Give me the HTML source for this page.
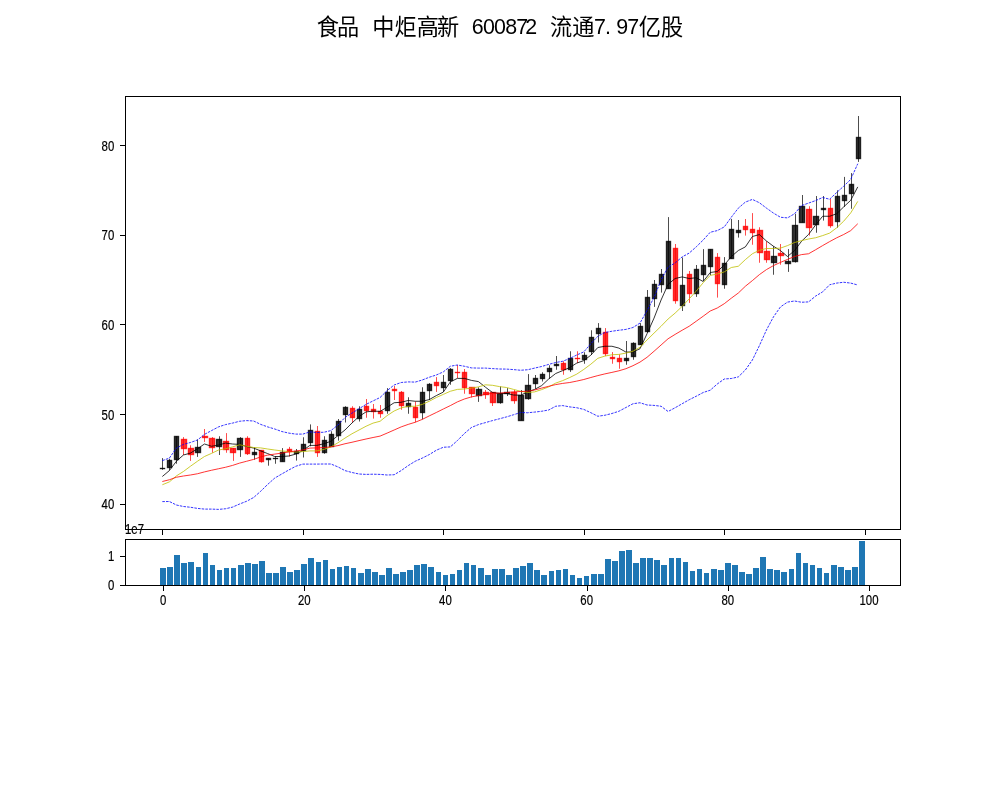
<!DOCTYPE html>
<html lang="zh"><head><meta charset="utf-8"><title>食品 中炬高新 600872</title>
<style>html,body{margin:0;padding:0;background:#fff}svg{display:block}.t{font-family:"Liberation Sans","Noto Sans CJK SC",sans-serif;fill:#000}.c{font-family:"Noto Sans CJK SC","WenQuanYi Zen Hei",sans-serif;fill:#000}</style></head><body>
<svg width="1000" height="800" viewBox="0 0 1000 800">
<rect width="1000" height="800" fill="#fff"/>
<text id="title" text-anchor="middle"><tspan class="c" font-size="22.2" x="327.95 350.15" y="34.6">食品</tspan> <tspan class="c" font-size="22.2" x="383.45 405.65 427.85 450.05" y="34.6">中炬高新</tspan> <tspan class="t" font-size="21.4" x="477.80 488.90 500.00 511.10 522.20 533.30" y="34.0">600872</tspan> <tspan class="c" font-size="22.2" x="561.05 583.25" y="34.6">流通</tspan><tspan class="t" font-size="21.4" x="599.90 608.00 622.10 633.20" y="34.0">7.97</tspan><tspan class="c" font-size="22.2" x="649.85 672.05" y="34.6">亿股</tspan></text>
<g id="vol" fill="#1f77b4" shape-rendering="crispEdges">
<rect x="160" y="568" width="6" height="17"/>
<rect x="167" y="567" width="6" height="18"/>
<rect x="174" y="555" width="6" height="30"/>
<rect x="181" y="563" width="6" height="22"/>
<rect x="188" y="562" width="6" height="23"/>
<rect x="196" y="567" width="5" height="18"/>
<rect x="203" y="553" width="5" height="32"/>
<rect x="210" y="565" width="5" height="20"/>
<rect x="217" y="570" width="5" height="15"/>
<rect x="224" y="568" width="5" height="17"/>
<rect x="231" y="568" width="5" height="17"/>
<rect x="238" y="565" width="6" height="20"/>
<rect x="245" y="563" width="6" height="22"/>
<rect x="252" y="564" width="6" height="21"/>
<rect x="259" y="561" width="6" height="24"/>
<rect x="266" y="573" width="6" height="12"/>
<rect x="273" y="573" width="6" height="12"/>
<rect x="280" y="567" width="6" height="18"/>
<rect x="287" y="572" width="6" height="13"/>
<rect x="294" y="570" width="6" height="15"/>
<rect x="301" y="564" width="6" height="21"/>
<rect x="308" y="558" width="6" height="27"/>
<rect x="316" y="562" width="5" height="23"/>
<rect x="323" y="560" width="5" height="25"/>
<rect x="330" y="569" width="5" height="16"/>
<rect x="337" y="567" width="5" height="18"/>
<rect x="344" y="566" width="5" height="19"/>
<rect x="351" y="568" width="5" height="17"/>
<rect x="358" y="573" width="6" height="12"/>
<rect x="365" y="569" width="6" height="16"/>
<rect x="372" y="572" width="6" height="13"/>
<rect x="379" y="575" width="6" height="10"/>
<rect x="386" y="568" width="6" height="17"/>
<rect x="393" y="574" width="6" height="11"/>
<rect x="400" y="572" width="6" height="13"/>
<rect x="407" y="570" width="6" height="15"/>
<rect x="414" y="565" width="6" height="20"/>
<rect x="421" y="564" width="6" height="21"/>
<rect x="428" y="567" width="6" height="18"/>
<rect x="436" y="572" width="5" height="13"/>
<rect x="443" y="575" width="5" height="10"/>
<rect x="450" y="574" width="5" height="11"/>
<rect x="457" y="570" width="5" height="15"/>
<rect x="464" y="563" width="5" height="22"/>
<rect x="471" y="565" width="5" height="20"/>
<rect x="478" y="568" width="6" height="17"/>
<rect x="485" y="575" width="6" height="10"/>
<rect x="492" y="569" width="6" height="16"/>
<rect x="499" y="569" width="6" height="16"/>
<rect x="506" y="575" width="6" height="10"/>
<rect x="513" y="568" width="6" height="17"/>
<rect x="520" y="566" width="6" height="19"/>
<rect x="527" y="563" width="6" height="22"/>
<rect x="534" y="570" width="6" height="15"/>
<rect x="541" y="575" width="6" height="10"/>
<rect x="549" y="571" width="5" height="14"/>
<rect x="556" y="570" width="5" height="15"/>
<rect x="563" y="569" width="5" height="16"/>
<rect x="570" y="575" width="5" height="10"/>
<rect x="577" y="578" width="5" height="7"/>
<rect x="584" y="576" width="5" height="9"/>
<rect x="591" y="574" width="6" height="11"/>
<rect x="598" y="574" width="6" height="11"/>
<rect x="605" y="559" width="6" height="26"/>
<rect x="612" y="561" width="6" height="24"/>
<rect x="619" y="551" width="6" height="34"/>
<rect x="626" y="550" width="6" height="35"/>
<rect x="633" y="563" width="6" height="22"/>
<rect x="640" y="558" width="6" height="27"/>
<rect x="647" y="558" width="6" height="27"/>
<rect x="654" y="560" width="6" height="25"/>
<rect x="661" y="565" width="6" height="20"/>
<rect x="669" y="558" width="5" height="27"/>
<rect x="676" y="558" width="5" height="27"/>
<rect x="683" y="562" width="5" height="23"/>
<rect x="690" y="571" width="5" height="14"/>
<rect x="697" y="569" width="5" height="16"/>
<rect x="704" y="573" width="5" height="12"/>
<rect x="711" y="569" width="6" height="16"/>
<rect x="718" y="570" width="6" height="15"/>
<rect x="725" y="563" width="6" height="22"/>
<rect x="732" y="565" width="6" height="20"/>
<rect x="739" y="572" width="6" height="13"/>
<rect x="746" y="574" width="6" height="11"/>
<rect x="753" y="568" width="6" height="17"/>
<rect x="760" y="557" width="6" height="28"/>
<rect x="767" y="569" width="6" height="16"/>
<rect x="774" y="570" width="6" height="15"/>
<rect x="781" y="572" width="6" height="13"/>
<rect x="789" y="569" width="5" height="16"/>
<rect x="796" y="553" width="5" height="32"/>
<rect x="803" y="563" width="5" height="22"/>
<rect x="810" y="565" width="5" height="20"/>
<rect x="817" y="568" width="5" height="17"/>
<rect x="824" y="573" width="5" height="12"/>
<rect x="831" y="565" width="6" height="20"/>
<rect x="838" y="567" width="6" height="18"/>
<rect x="845" y="570" width="6" height="15"/>
<rect x="852" y="567" width="6" height="18"/>
<rect x="859" y="541" width="6" height="44"/>
</g>
<g id="main" fill="none">
<line x1="159.805" y1="468.5" x2="165.195" y2="468.5" stroke="#000" stroke-opacity="0.9" stroke-width="1.39"/>
<rect x="167.5" y="460.5" width="4.0" height="7.0" fill="#000" fill-opacity="0.8" stroke="#000" stroke-opacity="0.8" stroke-width="1.39"/>
<rect x="174.5" y="436.5" width="4.0" height="23.0" fill="#000" fill-opacity="0.8" stroke="#000" stroke-opacity="0.8" stroke-width="1.39"/>
<rect x="181.5" y="439.5" width="5.0" height="9.0" fill="#f00" fill-opacity="0.8" stroke="#f00" stroke-opacity="0.8" stroke-width="1.39"/>
<rect x="188.5" y="448.5" width="5.0" height="6.0" fill="#f00" fill-opacity="0.8" stroke="#f00" stroke-opacity="0.8" stroke-width="1.39"/>
<rect x="195.5" y="447.5" width="5.0" height="5.0" fill="#000" fill-opacity="0.8" stroke="#000" stroke-opacity="0.8" stroke-width="1.39"/>
<rect x="202.5" y="436.5" width="5.0" height="1.0" fill="#f00" fill-opacity="0.8" stroke="#f00" stroke-opacity="0.8" stroke-width="1.39"/>
<rect x="209.5" y="438.5" width="5.0" height="9.0" fill="#f00" fill-opacity="0.8" stroke="#f00" stroke-opacity="0.8" stroke-width="1.39"/>
<rect x="216.5" y="439.5" width="5.0" height="7.0" fill="#000" fill-opacity="0.8" stroke="#000" stroke-opacity="0.8" stroke-width="1.39"/>
<rect x="223.5" y="441.5" width="5.0" height="8.0" fill="#f00" fill-opacity="0.8" stroke="#f00" stroke-opacity="0.8" stroke-width="1.39"/>
<rect x="230.5" y="448.5" width="5.0" height="4.0" fill="#f00" fill-opacity="0.8" stroke="#f00" stroke-opacity="0.8" stroke-width="1.39"/>
<rect x="237.5" y="438.5" width="5.0" height="11.0" fill="#000" fill-opacity="0.8" stroke="#000" stroke-opacity="0.8" stroke-width="1.39"/>
<rect x="245.5" y="438.5" width="4.0" height="15.0" fill="#f00" fill-opacity="0.8" stroke="#f00" stroke-opacity="0.8" stroke-width="1.39"/>
<rect x="252.5" y="452.5" width="4.0" height="2.0" fill="#000" fill-opacity="0.8" stroke="#000" stroke-opacity="0.8" stroke-width="1.39"/>
<rect x="259.5" y="450.5" width="4.0" height="11.0" fill="#f00" fill-opacity="0.8" stroke="#f00" stroke-opacity="0.8" stroke-width="1.39"/>
<rect x="266.5" y="458.5" width="4.0" height="1.0" fill="#000" fill-opacity="0.8" stroke="#000" stroke-opacity="0.8" stroke-width="1.39"/>
<line x1="272.805" y1="458.5" x2="278.195" y2="458.5" stroke="#000" stroke-opacity="0.9" stroke-width="1.39"/>
<rect x="280.5" y="452.5" width="4.0" height="9.0" fill="#000" fill-opacity="0.8" stroke="#000" stroke-opacity="0.8" stroke-width="1.39"/>
<rect x="287.5" y="449.5" width="4.0" height="2.0" fill="#f00" fill-opacity="0.8" stroke="#f00" stroke-opacity="0.8" stroke-width="1.39"/>
<rect x="294.5" y="451.5" width="4.0" height="2.0" fill="#000" fill-opacity="0.8" stroke="#000" stroke-opacity="0.8" stroke-width="1.39"/>
<rect x="301.5" y="444.5" width="4.0" height="6.0" fill="#000" fill-opacity="0.8" stroke="#000" stroke-opacity="0.8" stroke-width="1.39"/>
<rect x="308.5" y="430.5" width="4.0" height="12.0" fill="#000" fill-opacity="0.8" stroke="#000" stroke-opacity="0.8" stroke-width="1.39"/>
<rect x="315.5" y="431.5" width="4.0" height="21.0" fill="#f00" fill-opacity="0.8" stroke="#f00" stroke-opacity="0.8" stroke-width="1.39"/>
<rect x="322.5" y="440.5" width="4.0" height="12.0" fill="#000" fill-opacity="0.8" stroke="#000" stroke-opacity="0.8" stroke-width="1.39"/>
<rect x="329.5" y="434.5" width="4.0" height="12.0" fill="#000" fill-opacity="0.8" stroke="#000" stroke-opacity="0.8" stroke-width="1.39"/>
<rect x="336.5" y="421.5" width="4.0" height="14.0" fill="#000" fill-opacity="0.8" stroke="#000" stroke-opacity="0.8" stroke-width="1.39"/>
<rect x="343.5" y="407.5" width="4.0" height="7.0" fill="#000" fill-opacity="0.8" stroke="#000" stroke-opacity="0.8" stroke-width="1.39"/>
<rect x="350.5" y="408.5" width="4.0" height="9.0" fill="#f00" fill-opacity="0.8" stroke="#f00" stroke-opacity="0.8" stroke-width="1.39"/>
<rect x="357.5" y="409.5" width="4.0" height="9.0" fill="#000" fill-opacity="0.8" stroke="#000" stroke-opacity="0.8" stroke-width="1.39"/>
<rect x="364.5" y="406.5" width="4.0" height="4.0" fill="#f00" fill-opacity="0.8" stroke="#f00" stroke-opacity="0.8" stroke-width="1.39"/>
<rect x="371.5" y="409.5" width="4.0" height="2.0" fill="#f00" fill-opacity="0.8" stroke="#f00" stroke-opacity="0.8" stroke-width="1.39"/>
<rect x="378.5" y="411.5" width="4.0" height="2.0" fill="#f00" fill-opacity="0.8" stroke="#f00" stroke-opacity="0.8" stroke-width="1.39"/>
<rect x="385.5" y="392.5" width="4.0" height="18.0" fill="#000" fill-opacity="0.8" stroke="#000" stroke-opacity="0.8" stroke-width="1.39"/>
<rect x="392.5" y="389.5" width="4.0" height="1.0" fill="#f00" fill-opacity="0.8" stroke="#f00" stroke-opacity="0.8" stroke-width="1.39"/>
<rect x="399.5" y="392.5" width="4.0" height="13.0" fill="#f00" fill-opacity="0.8" stroke="#f00" stroke-opacity="0.8" stroke-width="1.39"/>
<rect x="406.5" y="403.5" width="4.0" height="3.0" fill="#000" fill-opacity="0.8" stroke="#000" stroke-opacity="0.8" stroke-width="1.39"/>
<rect x="413.5" y="407.5" width="4.0" height="10.0" fill="#f00" fill-opacity="0.8" stroke="#f00" stroke-opacity="0.8" stroke-width="1.39"/>
<rect x="420.5" y="392.5" width="4.0" height="20.0" fill="#000" fill-opacity="0.8" stroke="#000" stroke-opacity="0.8" stroke-width="1.39"/>
<rect x="427.5" y="384.5" width="4.0" height="6.0" fill="#000" fill-opacity="0.8" stroke="#000" stroke-opacity="0.8" stroke-width="1.39"/>
<rect x="434.5" y="382.5" width="4.0" height="3.0" fill="#f00" fill-opacity="0.8" stroke="#f00" stroke-opacity="0.8" stroke-width="1.39"/>
<rect x="441.5" y="382.5" width="4.0" height="5.0" fill="#000" fill-opacity="0.8" stroke="#000" stroke-opacity="0.8" stroke-width="1.39"/>
<rect x="448.5" y="369.5" width="4.0" height="11.0" fill="#000" fill-opacity="0.8" stroke="#000" stroke-opacity="0.8" stroke-width="1.39"/>
<line x1="454.805" y1="372.5" x2="460.195" y2="372.5" stroke="#f00" stroke-opacity="0.9" stroke-width="1.39"/>
<rect x="462.5" y="372.5" width="4.0" height="15.0" fill="#f00" fill-opacity="0.8" stroke="#f00" stroke-opacity="0.8" stroke-width="1.39"/>
<rect x="469.5" y="387.5" width="5.0" height="6.0" fill="#f00" fill-opacity="0.8" stroke="#f00" stroke-opacity="0.8" stroke-width="1.39"/>
<rect x="476.5" y="389.5" width="5.0" height="6.0" fill="#000" fill-opacity="0.8" stroke="#000" stroke-opacity="0.8" stroke-width="1.39"/>
<rect x="483.5" y="392.5" width="5.0" height="2.0" fill="#f00" fill-opacity="0.8" stroke="#f00" stroke-opacity="0.8" stroke-width="1.39"/>
<rect x="490.5" y="392.5" width="5.0" height="10.0" fill="#f00" fill-opacity="0.8" stroke="#f00" stroke-opacity="0.8" stroke-width="1.39"/>
<rect x="497.5" y="393.5" width="5.0" height="9.0" fill="#000" fill-opacity="0.8" stroke="#000" stroke-opacity="0.8" stroke-width="1.39"/>
<rect x="504.5" y="392.5" width="5.0" height="1.0" fill="#000" fill-opacity="0.8" stroke="#000" stroke-opacity="0.8" stroke-width="1.39"/>
<rect x="511.5" y="392.5" width="5.0" height="8.0" fill="#f00" fill-opacity="0.8" stroke="#f00" stroke-opacity="0.8" stroke-width="1.39"/>
<rect x="518.5" y="395.5" width="5.0" height="25.0" fill="#000" fill-opacity="0.8" stroke="#000" stroke-opacity="0.8" stroke-width="1.39"/>
<rect x="525.5" y="385.5" width="5.0" height="13.0" fill="#000" fill-opacity="0.8" stroke="#000" stroke-opacity="0.8" stroke-width="1.39"/>
<rect x="533.5" y="378.5" width="4.0" height="5.0" fill="#000" fill-opacity="0.8" stroke="#000" stroke-opacity="0.8" stroke-width="1.39"/>
<rect x="540.5" y="374.5" width="4.0" height="4.0" fill="#000" fill-opacity="0.8" stroke="#000" stroke-opacity="0.8" stroke-width="1.39"/>
<rect x="547.5" y="368.5" width="4.0" height="3.0" fill="#000" fill-opacity="0.8" stroke="#000" stroke-opacity="0.8" stroke-width="1.39"/>
<rect x="554.5" y="364.5" width="4.0" height="1.0" fill="#000" fill-opacity="0.8" stroke="#000" stroke-opacity="0.8" stroke-width="1.39"/>
<rect x="561.5" y="363.5" width="4.0" height="6.0" fill="#f00" fill-opacity="0.8" stroke="#f00" stroke-opacity="0.8" stroke-width="1.39"/>
<rect x="568.5" y="358.5" width="4.0" height="11.0" fill="#000" fill-opacity="0.8" stroke="#000" stroke-opacity="0.8" stroke-width="1.39"/>
<line x1="574.805" y1="358.5" x2="580.195" y2="358.5" stroke="#f00" stroke-opacity="0.9" stroke-width="1.39"/>
<rect x="582.5" y="355.5" width="4.0" height="4.0" fill="#000" fill-opacity="0.8" stroke="#000" stroke-opacity="0.8" stroke-width="1.39"/>
<rect x="589.5" y="337.5" width="4.0" height="14.0" fill="#000" fill-opacity="0.8" stroke="#000" stroke-opacity="0.8" stroke-width="1.39"/>
<rect x="596.5" y="328.5" width="4.0" height="5.0" fill="#000" fill-opacity="0.8" stroke="#000" stroke-opacity="0.8" stroke-width="1.39"/>
<rect x="603.5" y="332.5" width="4.0" height="21.0" fill="#f00" fill-opacity="0.8" stroke="#f00" stroke-opacity="0.8" stroke-width="1.39"/>
<rect x="610.5" y="357.5" width="4.0" height="1.0" fill="#f00" fill-opacity="0.8" stroke="#f00" stroke-opacity="0.8" stroke-width="1.39"/>
<rect x="617.5" y="358.5" width="4.0" height="3.0" fill="#f00" fill-opacity="0.8" stroke="#f00" stroke-opacity="0.8" stroke-width="1.39"/>
<rect x="624.5" y="358.5" width="4.0" height="2.0" fill="#000" fill-opacity="0.8" stroke="#000" stroke-opacity="0.8" stroke-width="1.39"/>
<rect x="631.5" y="343.5" width="4.0" height="13.0" fill="#000" fill-opacity="0.8" stroke="#000" stroke-opacity="0.8" stroke-width="1.39"/>
<rect x="638.5" y="326.5" width="4.0" height="18.0" fill="#000" fill-opacity="0.8" stroke="#000" stroke-opacity="0.8" stroke-width="1.39"/>
<rect x="645.5" y="297.5" width="4.0" height="34.0" fill="#000" fill-opacity="0.8" stroke="#000" stroke-opacity="0.8" stroke-width="1.39"/>
<rect x="652.5" y="284.5" width="4.0" height="14.0" fill="#000" fill-opacity="0.8" stroke="#000" stroke-opacity="0.8" stroke-width="1.39"/>
<rect x="659.5" y="274.5" width="4.0" height="10.0" fill="#000" fill-opacity="0.8" stroke="#000" stroke-opacity="0.8" stroke-width="1.39"/>
<rect x="666.5" y="241.5" width="4.0" height="47.0" fill="#000" fill-opacity="0.8" stroke="#000" stroke-opacity="0.8" stroke-width="1.39"/>
<rect x="673.5" y="248.5" width="4.0" height="52.0" fill="#f00" fill-opacity="0.8" stroke="#f00" stroke-opacity="0.8" stroke-width="1.39"/>
<rect x="680.5" y="285.5" width="4.0" height="20.0" fill="#000" fill-opacity="0.8" stroke="#000" stroke-opacity="0.8" stroke-width="1.39"/>
<rect x="687.5" y="274.5" width="4.0" height="19.0" fill="#f00" fill-opacity="0.8" stroke="#f00" stroke-opacity="0.8" stroke-width="1.39"/>
<rect x="694.5" y="269.5" width="4.0" height="24.0" fill="#000" fill-opacity="0.8" stroke="#000" stroke-opacity="0.8" stroke-width="1.39"/>
<rect x="701.5" y="265.5" width="4.0" height="9.0" fill="#000" fill-opacity="0.8" stroke="#000" stroke-opacity="0.8" stroke-width="1.39"/>
<rect x="708.5" y="249.5" width="4.0" height="17.0" fill="#000" fill-opacity="0.8" stroke="#000" stroke-opacity="0.8" stroke-width="1.39"/>
<rect x="715.5" y="257.5" width="4.0" height="26.0" fill="#f00" fill-opacity="0.8" stroke="#f00" stroke-opacity="0.8" stroke-width="1.39"/>
<rect x="722.5" y="263.5" width="4.0" height="21.0" fill="#000" fill-opacity="0.8" stroke="#000" stroke-opacity="0.8" stroke-width="1.39"/>
<rect x="729.5" y="229.5" width="4.0" height="29.0" fill="#000" fill-opacity="0.8" stroke="#000" stroke-opacity="0.8" stroke-width="1.39"/>
<rect x="736.5" y="230.5" width="4.0" height="2.0" fill="#000" fill-opacity="0.8" stroke="#000" stroke-opacity="0.8" stroke-width="1.39"/>
<rect x="743.5" y="226.5" width="4.0" height="3.0" fill="#f00" fill-opacity="0.8" stroke="#f00" stroke-opacity="0.8" stroke-width="1.39"/>
<rect x="750.5" y="229.5" width="4.0" height="3.0" fill="#f00" fill-opacity="0.8" stroke="#f00" stroke-opacity="0.8" stroke-width="1.39"/>
<rect x="757.5" y="230.5" width="5.0" height="22.0" fill="#f00" fill-opacity="0.8" stroke="#f00" stroke-opacity="0.8" stroke-width="1.39"/>
<rect x="764.5" y="251.5" width="5.0" height="8.0" fill="#f00" fill-opacity="0.8" stroke="#f00" stroke-opacity="0.8" stroke-width="1.39"/>
<rect x="771.5" y="256.5" width="5.0" height="6.0" fill="#000" fill-opacity="0.8" stroke="#000" stroke-opacity="0.8" stroke-width="1.39"/>
<rect x="778.5" y="253.5" width="5.0" height="2.0" fill="#f00" fill-opacity="0.8" stroke="#f00" stroke-opacity="0.8" stroke-width="1.39"/>
<rect x="785.5" y="261.5" width="5.0" height="2.0" fill="#000" fill-opacity="0.8" stroke="#000" stroke-opacity="0.8" stroke-width="1.39"/>
<rect x="792.5" y="225.5" width="5.0" height="36.0" fill="#000" fill-opacity="0.8" stroke="#000" stroke-opacity="0.8" stroke-width="1.39"/>
<rect x="799.5" y="206.5" width="5.0" height="16.0" fill="#000" fill-opacity="0.8" stroke="#000" stroke-opacity="0.8" stroke-width="1.39"/>
<rect x="806.5" y="209.5" width="5.0" height="18.0" fill="#f00" fill-opacity="0.8" stroke="#f00" stroke-opacity="0.8" stroke-width="1.39"/>
<rect x="813.5" y="216.5" width="5.0" height="8.0" fill="#000" fill-opacity="0.8" stroke="#000" stroke-opacity="0.8" stroke-width="1.39"/>
<rect x="821.5" y="208.5" width="4.0" height="1.0" fill="#000" fill-opacity="0.8" stroke="#000" stroke-opacity="0.8" stroke-width="1.39"/>
<rect x="828.5" y="208.5" width="4.0" height="17.0" fill="#f00" fill-opacity="0.8" stroke="#f00" stroke-opacity="0.8" stroke-width="1.39"/>
<rect x="835.5" y="196.5" width="4.0" height="25.0" fill="#000" fill-opacity="0.8" stroke="#000" stroke-opacity="0.8" stroke-width="1.39"/>
<rect x="842.5" y="195.5" width="4.0" height="5.0" fill="#000" fill-opacity="0.8" stroke="#000" stroke-opacity="0.8" stroke-width="1.39"/>
<rect x="849.5" y="184.5" width="4.0" height="9.0" fill="#000" fill-opacity="0.8" stroke="#000" stroke-opacity="0.8" stroke-width="1.39"/>
<rect x="856.5" y="137.5" width="4.0" height="21.0" fill="#000" fill-opacity="0.8" stroke="#000" stroke-opacity="0.8" stroke-width="1.39"/>
<line x1="162.5" y1="458.10" x2="162.5" y2="469.80" stroke="#000" stroke-width="0.7"/>
<line x1="169.5" y1="458.75" x2="169.5" y2="470.30" stroke="#000" stroke-width="0.7"/>
<line x1="176.5" y1="436.25" x2="176.5" y2="463.75" stroke="#000" stroke-width="0.7"/>
<line x1="183.5" y1="437.10" x2="183.5" y2="455.00" stroke="#f00" stroke-width="0.7"/>
<line x1="190.5" y1="445.25" x2="190.5" y2="460.90" stroke="#f00" stroke-width="0.7"/>
<line x1="197.5" y1="439.40" x2="197.5" y2="456.90" stroke="#000" stroke-width="0.7"/>
<line x1="204.5" y1="429.00" x2="204.5" y2="441.90" stroke="#f00" stroke-width="0.7"/>
<line x1="212.5" y1="437.10" x2="212.5" y2="452.75" stroke="#f00" stroke-width="0.7"/>
<line x1="219.5" y1="436.25" x2="219.5" y2="455.00" stroke="#000" stroke-width="0.7"/>
<line x1="226.5" y1="433.10" x2="226.5" y2="452.75" stroke="#f00" stroke-width="0.7"/>
<line x1="233.5" y1="448.10" x2="233.5" y2="460.90" stroke="#f00" stroke-width="0.7"/>
<line x1="240.5" y1="437.10" x2="240.5" y2="456.90" stroke="#000" stroke-width="0.7"/>
<line x1="247.5" y1="436.25" x2="247.5" y2="455.00" stroke="#f00" stroke-width="0.7"/>
<line x1="254.5" y1="447.25" x2="254.5" y2="459.75" stroke="#000" stroke-width="0.7"/>
<line x1="261.5" y1="450.00" x2="261.5" y2="462.70" stroke="#f00" stroke-width="0.7"/>
<line x1="268.5" y1="458.10" x2="268.5" y2="465.70" stroke="#000" stroke-width="0.7"/>
<line x1="275.5" y1="456.25" x2="275.5" y2="463.75" stroke="#000" stroke-width="0.7"/>
<line x1="282.5" y1="448.10" x2="282.5" y2="461.50" stroke="#000" stroke-width="0.7"/>
<line x1="289.5" y1="446.90" x2="289.5" y2="456.50" stroke="#f00" stroke-width="0.7"/>
<line x1="296.5" y1="449.00" x2="296.5" y2="460.60" stroke="#000" stroke-width="0.7"/>
<line x1="303.5" y1="437.25" x2="303.5" y2="457.50" stroke="#000" stroke-width="0.7"/>
<line x1="310.5" y1="424.40" x2="310.5" y2="446.25" stroke="#000" stroke-width="0.7"/>
<line x1="317.5" y1="426.00" x2="317.5" y2="456.90" stroke="#f00" stroke-width="0.7"/>
<line x1="324.5" y1="436.25" x2="324.5" y2="453.75" stroke="#000" stroke-width="0.7"/>
<line x1="331.5" y1="431.25" x2="331.5" y2="446.90" stroke="#000" stroke-width="0.7"/>
<line x1="338.5" y1="419.00" x2="338.5" y2="440.60" stroke="#000" stroke-width="0.7"/>
<line x1="345.5" y1="406.25" x2="345.5" y2="422.50" stroke="#000" stroke-width="0.7"/>
<line x1="352.5" y1="406.25" x2="352.5" y2="422.50" stroke="#f00" stroke-width="0.7"/>
<line x1="359.5" y1="406.25" x2="359.5" y2="421.50" stroke="#000" stroke-width="0.7"/>
<line x1="366.5" y1="399.00" x2="366.5" y2="417.75" stroke="#f00" stroke-width="0.7"/>
<line x1="373.5" y1="404.00" x2="373.5" y2="418.60" stroke="#f00" stroke-width="0.7"/>
<line x1="380.5" y1="405.00" x2="380.5" y2="417.75" stroke="#f00" stroke-width="0.7"/>
<line x1="387.5" y1="388.10" x2="387.5" y2="413.75" stroke="#000" stroke-width="0.7"/>
<line x1="394.5" y1="386.00" x2="394.5" y2="400.00" stroke="#f00" stroke-width="0.7"/>
<line x1="401.5" y1="391.00" x2="401.5" y2="409.75" stroke="#f00" stroke-width="0.7"/>
<line x1="408.5" y1="397.25" x2="408.5" y2="413.75" stroke="#000" stroke-width="0.7"/>
<line x1="415.5" y1="401.50" x2="415.5" y2="422.25" stroke="#f00" stroke-width="0.7"/>
<line x1="422.5" y1="387.25" x2="422.5" y2="419.40" stroke="#000" stroke-width="0.7"/>
<line x1="429.5" y1="383.10" x2="429.5" y2="400.00" stroke="#000" stroke-width="0.7"/>
<line x1="436.5" y1="377.10" x2="436.5" y2="391.90" stroke="#f00" stroke-width="0.7"/>
<line x1="443.5" y1="375.00" x2="443.5" y2="391.90" stroke="#000" stroke-width="0.7"/>
<line x1="450.5" y1="368.10" x2="450.5" y2="384.75" stroke="#000" stroke-width="0.7"/>
<line x1="457.5" y1="365.00" x2="457.5" y2="378.10" stroke="#f00" stroke-width="0.7"/>
<line x1="464.5" y1="369.00" x2="464.5" y2="393.75" stroke="#f00" stroke-width="0.7"/>
<line x1="471.5" y1="387.50" x2="471.5" y2="397.50" stroke="#f00" stroke-width="0.7"/>
<line x1="478.5" y1="387.25" x2="478.5" y2="401.90" stroke="#000" stroke-width="0.7"/>
<line x1="485.5" y1="390.00" x2="485.5" y2="398.90" stroke="#f00" stroke-width="0.7"/>
<line x1="492.5" y1="391.90" x2="492.5" y2="406.00" stroke="#f00" stroke-width="0.7"/>
<line x1="500.5" y1="386.50" x2="500.5" y2="403.75" stroke="#000" stroke-width="0.7"/>
<line x1="507.5" y1="388.10" x2="507.5" y2="396.00" stroke="#000" stroke-width="0.7"/>
<line x1="514.5" y1="390.00" x2="514.5" y2="403.75" stroke="#f00" stroke-width="0.7"/>
<line x1="521.5" y1="390.00" x2="521.5" y2="420.25" stroke="#000" stroke-width="0.7"/>
<line x1="528.5" y1="374.10" x2="528.5" y2="399.75" stroke="#000" stroke-width="0.7"/>
<line x1="535.5" y1="375.00" x2="535.5" y2="388.75" stroke="#000" stroke-width="0.7"/>
<line x1="542.5" y1="372.25" x2="542.5" y2="381.50" stroke="#000" stroke-width="0.7"/>
<line x1="549.5" y1="365.25" x2="549.5" y2="378.75" stroke="#000" stroke-width="0.7"/>
<line x1="556.5" y1="356.00" x2="556.5" y2="369.75" stroke="#000" stroke-width="0.7"/>
<line x1="563.5" y1="361.25" x2="563.5" y2="374.75" stroke="#f00" stroke-width="0.7"/>
<line x1="570.5" y1="351.25" x2="570.5" y2="371.90" stroke="#000" stroke-width="0.7"/>
<line x1="577.5" y1="351.25" x2="577.5" y2="363.10" stroke="#f00" stroke-width="0.7"/>
<line x1="584.5" y1="352.25" x2="584.5" y2="363.75" stroke="#000" stroke-width="0.7"/>
<line x1="591.5" y1="330.25" x2="591.5" y2="355.00" stroke="#000" stroke-width="0.7"/>
<line x1="598.5" y1="323.10" x2="598.5" y2="342.50" stroke="#000" stroke-width="0.7"/>
<line x1="605.5" y1="328.10" x2="605.5" y2="356.00" stroke="#f00" stroke-width="0.7"/>
<line x1="612.5" y1="352.10" x2="612.5" y2="363.75" stroke="#f00" stroke-width="0.7"/>
<line x1="619.5" y1="354.40" x2="619.5" y2="368.75" stroke="#f00" stroke-width="0.7"/>
<line x1="626.5" y1="341.00" x2="626.5" y2="364.75" stroke="#000" stroke-width="0.7"/>
<line x1="633.5" y1="342.25" x2="633.5" y2="359.75" stroke="#000" stroke-width="0.7"/>
<line x1="640.5" y1="323.10" x2="640.5" y2="345.00" stroke="#000" stroke-width="0.7"/>
<line x1="647.5" y1="290.00" x2="647.5" y2="332.50" stroke="#000" stroke-width="0.7"/>
<line x1="654.5" y1="280.00" x2="654.5" y2="306.90" stroke="#000" stroke-width="0.7"/>
<line x1="661.5" y1="269.00" x2="661.5" y2="292.60" stroke="#000" stroke-width="0.7"/>
<line x1="668.5" y1="217.10" x2="668.5" y2="288.75" stroke="#000" stroke-width="0.7"/>
<line x1="675.5" y1="244.00" x2="675.5" y2="303.75" stroke="#f00" stroke-width="0.7"/>
<line x1="682.5" y1="257.50" x2="682.5" y2="311.00" stroke="#000" stroke-width="0.7"/>
<line x1="689.5" y1="271.00" x2="689.5" y2="302.90" stroke="#f00" stroke-width="0.7"/>
<line x1="696.5" y1="265.00" x2="696.5" y2="296.90" stroke="#000" stroke-width="0.7"/>
<line x1="703.5" y1="249.10" x2="703.5" y2="281.00" stroke="#000" stroke-width="0.7"/>
<line x1="710.5" y1="249.40" x2="710.5" y2="275.00" stroke="#000" stroke-width="0.7"/>
<line x1="717.5" y1="253.10" x2="717.5" y2="297.60" stroke="#f00" stroke-width="0.7"/>
<line x1="724.5" y1="257.10" x2="724.5" y2="288.75" stroke="#000" stroke-width="0.7"/>
<line x1="731.5" y1="218.90" x2="731.5" y2="258.75" stroke="#000" stroke-width="0.7"/>
<line x1="738.5" y1="220.00" x2="738.5" y2="237.60" stroke="#000" stroke-width="0.7"/>
<line x1="745.5" y1="219.00" x2="745.5" y2="235.60" stroke="#f00" stroke-width="0.7"/>
<line x1="752.5" y1="213.10" x2="752.5" y2="244.75" stroke="#f00" stroke-width="0.7"/>
<line x1="759.5" y1="227.25" x2="759.5" y2="262.75" stroke="#f00" stroke-width="0.7"/>
<line x1="766.5" y1="241.25" x2="766.5" y2="262.75" stroke="#f00" stroke-width="0.7"/>
<line x1="773.5" y1="246.25" x2="773.5" y2="274.75" stroke="#000" stroke-width="0.7"/>
<line x1="780.5" y1="244.00" x2="780.5" y2="264.75" stroke="#f00" stroke-width="0.7"/>
<line x1="788.5" y1="249.10" x2="788.5" y2="271.90" stroke="#000" stroke-width="0.7"/>
<line x1="795.5" y1="213.75" x2="795.5" y2="262.50" stroke="#000" stroke-width="0.7"/>
<line x1="802.5" y1="195.00" x2="802.5" y2="222.50" stroke="#000" stroke-width="0.7"/>
<line x1="809.5" y1="206.25" x2="809.5" y2="235.60" stroke="#f00" stroke-width="0.7"/>
<line x1="816.5" y1="196.00" x2="816.5" y2="232.75" stroke="#000" stroke-width="0.7"/>
<line x1="823.5" y1="196.00" x2="823.5" y2="220.60" stroke="#000" stroke-width="0.7"/>
<line x1="830.5" y1="199.00" x2="830.5" y2="227.75" stroke="#f00" stroke-width="0.7"/>
<line x1="837.5" y1="190.30" x2="837.5" y2="227.75" stroke="#000" stroke-width="0.7"/>
<line x1="844.5" y1="176.90" x2="844.5" y2="206.90" stroke="#000" stroke-width="0.7"/>
<line x1="851.5" y1="173.10" x2="851.5" y2="208.75" stroke="#000" stroke-width="0.7"/>
<line x1="858.5" y1="116.00" x2="858.5" y2="161.90" stroke="#000" stroke-width="0.7"/>
<polyline points="162.33,476.50 169.36,470.60 176.38,461.25 183.41,455.00 190.43,453.10 197.46,448.75 204.48,444.00 211.50,446.25 218.53,445.00 225.55,443.10 232.58,444.00 239.60,444.40 246.63,446.50 253.65,448.10 260.68,450.90 267.70,453.60 274.72,456.50 281.75,456.50 288.77,456.00 295.80,454.10 302.82,450.60 309.85,445.40 316.87,445.40 323.90,443.75 330.92,441.25 337.94,435.60 344.97,430.00 351.99,423.00 359.02,416.50 366.04,411.90 373.07,411.10 380.09,411.40 387.11,407.25 394.14,402.75 401.16,402.25 408.19,400.50 415.21,401.25 422.24,401.25 429.26,399.60 436.29,395.60 443.31,392.10 450.33,381.90 457.36,378.40 464.38,378.40 471.41,380.40 478.43,381.60 485.46,387.20 492.48,392.50 499.51,393.50 506.53,393.50 513.55,395.00 520.58,395.25 527.60,391.90 534.63,389.40 541.65,385.60 548.68,379.00 555.70,373.50 562.72,370.60 569.75,367.50 576.77,363.10 583.80,360.60 590.82,355.20 597.85,347.50 604.87,346.25 611.90,346.25 618.92,348.10 625.94,352.10 632.97,351.90 639.99,348.75 647.02,333.75 654.04,318.10 661.07,300.00 668.09,284.40 675.12,278.50 682.14,276.90 689.16,278.50 696.19,277.75 703.21,281.50 710.24,272.50 717.26,271.50 724.29,265.00 731.31,256.60 738.33,250.50 745.36,246.90 752.38,236.50 759.41,234.60 766.43,241.00 773.46,246.25 780.48,250.60 787.51,256.50 794.53,250.60 801.55,241.25 808.58,234.40 815.60,225.00 822.63,216.25 829.65,216.25 836.68,213.75 843.70,206.90 850.73,200.30 857.75,186.90" stroke="#000" stroke-width="0.8" />
<polyline points="162.33,484.75 169.36,481.90 176.38,475.90 183.41,471.50 190.43,466.25 197.46,461.25 204.48,456.50 211.50,453.40 218.53,450.00 225.55,448.75 232.58,446.90 239.60,444.75 246.63,446.25 253.65,447.50 260.68,447.90 267.70,449.00 274.72,450.00 281.75,450.90 288.77,451.60 295.80,452.10 302.82,451.60 309.85,450.90 316.87,450.90 323.90,449.40 330.92,446.90 337.94,442.75 344.97,438.10 351.99,433.75 359.02,430.00 366.04,426.25 373.07,423.10 380.09,421.25 387.11,415.60 394.14,411.00 401.16,407.90 408.19,406.25 415.21,406.25 422.24,404.40 429.26,401.25 436.29,397.50 443.31,394.40 450.33,391.25 457.36,389.40 464.38,389.00 471.41,388.10 478.43,386.90 485.46,384.80 492.48,385.30 499.51,386.60 506.53,387.50 513.55,389.40 520.58,391.25 527.60,392.50 534.63,391.90 541.65,389.60 548.68,386.90 555.70,383.10 562.72,380.60 569.75,377.50 576.77,374.10 583.80,369.40 590.82,364.20 597.85,358.30 604.87,356.10 611.90,354.75 618.92,354.40 625.94,353.10 632.97,351.25 639.99,347.25 647.02,340.00 654.04,333.10 661.07,326.25 668.09,319.00 675.12,313.10 682.14,306.40 689.16,298.90 696.19,291.10 703.21,282.70 710.24,275.40 717.26,274.00 724.29,271.90 731.31,267.50 738.33,266.25 745.36,259.60 752.38,253.75 759.41,250.25 766.43,248.50 773.46,248.50 780.48,248.10 787.51,245.60 794.53,242.50 801.55,240.60 808.58,239.00 815.60,237.75 822.63,235.60 829.65,233.10 836.68,227.80 843.70,221.20 850.73,212.90 857.75,201.40" stroke="#bfbf00" stroke-width="0.8" />
<polyline points="162.33,481.50 169.36,479.75 176.38,477.25 183.41,476.00 190.43,475.00 197.46,473.75 204.48,471.90 211.50,470.25 218.53,468.75 225.55,467.25 232.58,465.40 239.60,463.10 246.63,461.25 253.65,459.40 260.68,456.90 267.70,455.10 274.72,454.10 281.75,453.10 288.77,451.90 295.80,451.00 302.82,450.00 309.85,448.10 316.87,447.90 323.90,447.50 330.92,446.90 337.94,445.60 344.97,443.75 351.99,442.25 359.02,440.60 366.04,439.00 373.07,437.50 380.09,436.10 387.11,433.10 394.14,430.00 401.16,426.90 408.19,424.40 415.21,422.25 422.24,419.40 429.26,415.90 436.29,412.50 443.31,409.00 450.33,405.60 457.36,401.90 464.38,399.00 471.41,396.90 478.43,395.60 485.46,394.40 492.48,393.30 499.51,393.10 506.53,392.50 513.55,391.90 520.58,391.50 527.60,391.25 534.63,390.00 541.65,388.10 548.68,386.30 555.70,384.60 562.72,383.40 569.75,382.50 576.77,381.10 583.80,379.50 590.82,377.50 597.85,375.60 604.87,373.90 611.90,372.40 618.92,370.80 625.94,368.70 632.97,365.70 639.99,362.10 647.02,357.30 654.04,351.25 661.07,345.00 668.09,338.75 675.12,334.40 682.14,330.25 689.16,326.25 696.19,321.25 703.21,316.20 710.24,311.00 717.26,308.00 724.29,303.70 731.31,298.20 738.33,293.00 745.36,286.25 752.38,280.60 759.41,274.60 766.43,269.60 773.46,265.60 780.48,262.40 787.51,259.40 794.53,256.50 801.55,254.60 808.58,253.75 815.60,249.75 822.63,245.60 829.65,241.60 836.68,237.80 843.70,234.50 850.73,230.60 857.75,223.75" stroke="#f00" stroke-width="0.8" />
<polyline points="162.33,460.60 169.36,458.10 176.38,448.10 183.41,444.40 190.43,442.50 197.46,440.00 204.48,434.40 211.50,430.60 218.53,426.90 225.55,424.60 232.58,423.10 239.60,421.25 246.63,420.60 253.65,421.00 260.68,424.40 267.70,426.90 274.72,429.00 281.75,431.50 288.77,433.10 295.80,434.10 302.82,434.10 309.85,431.90 316.87,432.50 323.90,432.25 330.92,430.60 337.94,425.00 344.97,417.50 351.99,413.10 359.02,408.75 366.04,404.40 373.07,400.90 380.09,397.50 387.11,390.60 394.14,385.00 401.16,382.50 408.19,381.90 415.21,382.10 422.24,380.00 429.26,377.25 436.29,375.00 443.31,371.90 450.33,366.25 457.36,365.00 464.38,366.25 471.41,367.90 478.43,368.10 485.46,368.10 492.48,368.60 499.51,369.00 506.53,369.10 513.55,369.60 520.58,370.25 527.60,369.75 534.63,368.10 541.65,366.50 548.68,364.40 555.70,362.50 562.72,361.25 569.75,358.50 576.77,355.00 583.80,351.90 590.82,343.75 597.85,336.25 604.87,332.50 611.90,331.25 618.92,330.25 625.94,329.40 632.97,327.50 639.99,323.10 647.02,310.60 654.04,297.50 661.07,280.00 668.09,267.00 675.12,263.00 682.14,256.90 689.16,253.10 696.19,246.90 703.21,240.00 710.24,232.25 717.26,230.60 724.29,226.90 731.31,217.20 738.33,208.10 745.36,202.10 752.38,199.40 759.41,202.75 766.43,208.10 773.46,213.10 780.48,217.25 787.51,217.90 794.53,213.75 801.55,205.60 808.58,203.10 815.60,200.60 822.63,197.50 829.65,199.20 836.68,192.50 843.70,186.20 850.73,179.40 857.75,163.75" stroke="#00f" stroke-width="0.8" stroke-dasharray="2.57 1.11"/>
<polyline points="162.33,501.60 169.36,501.50 176.38,505.00 183.41,506.50 190.43,507.25 197.46,508.40 204.48,509.10 211.50,509.10 218.53,509.40 225.55,508.75 232.58,507.10 239.60,504.00 246.63,501.25 253.65,497.50 260.68,491.25 267.70,484.40 274.72,478.10 281.75,474.00 288.77,470.00 295.80,466.25 302.82,464.10 309.85,464.10 316.87,464.10 323.90,464.00 330.92,464.00 337.94,466.90 344.97,470.60 351.99,472.50 359.02,474.00 366.04,474.40 373.07,474.20 380.09,474.40 387.11,475.00 394.14,474.75 401.16,470.60 408.19,465.60 415.21,461.25 422.24,458.10 429.26,454.60 436.29,450.25 443.31,447.25 450.33,446.90 457.36,440.60 464.38,433.50 471.41,427.50 478.43,424.60 485.46,422.60 492.48,420.60 499.51,418.75 506.53,416.90 513.55,414.75 520.58,412.50 527.60,412.75 534.63,412.10 541.65,411.25 548.68,410.00 555.70,406.25 562.72,405.60 569.75,406.90 576.77,407.75 583.80,409.40 590.82,412.70 597.85,416.25 604.87,415.25 611.90,413.50 618.92,411.25 625.94,407.50 632.97,403.75 639.99,402.75 647.02,405.00 654.04,405.40 661.07,406.25 668.09,411.50 675.12,407.75 682.14,403.75 689.16,399.75 696.19,396.25 703.21,392.50 710.24,390.20 717.26,384.00 724.29,379.00 731.31,378.50 738.33,376.90 745.36,370.00 752.38,360.00 759.41,345.60 766.43,330.00 773.46,316.90 780.48,306.90 787.51,302.10 794.53,301.00 801.55,302.25 808.58,301.90 815.60,296.10 822.63,291.90 829.65,284.75 836.68,283.10 843.70,282.25 850.73,283.10 857.75,285.00" stroke="#00f" stroke-width="0.8" stroke-dasharray="2.57 1.11"/>
</g>
<g id="axes" stroke="#000" stroke-width="1" fill="none" shape-rendering="crispEdges">
<rect x="125.5" y="96.5" width="775" height="433"/>
<rect x="125.5" y="539.5" width="775" height="46"/>
<line x1="162.5" y1="530" x2="162.5" y2="534.5"/>
<line x1="163.5" y1="586" x2="163.5" y2="590.5"/>
<line x1="303.5" y1="530" x2="303.5" y2="534.5"/>
<line x1="304.5" y1="586" x2="304.5" y2="590.5"/>
<line x1="443.5" y1="530" x2="443.5" y2="534.5"/>
<line x1="445.5" y1="586" x2="445.5" y2="590.5"/>
<line x1="584.5" y1="530" x2="584.5" y2="534.5"/>
<line x1="587.5" y1="586" x2="587.5" y2="590.5"/>
<line x1="724.5" y1="530" x2="724.5" y2="534.5"/>
<line x1="728.5" y1="586" x2="728.5" y2="590.5"/>
<line x1="865.5" y1="530" x2="865.5" y2="534.5"/>
<line x1="869.5" y1="586" x2="869.5" y2="590.5"/>
<line x1="120" y1="504.5" x2="125" y2="504.5"/>
<line x1="120" y1="414.5" x2="125" y2="414.5"/>
<line x1="120" y1="324.5" x2="125" y2="324.5"/>
<line x1="120" y1="235.5" x2="125" y2="235.5"/>
<line x1="120" y1="145.5" x2="125" y2="145.5"/>
<line x1="120" y1="585.5" x2="125" y2="585.5"/>
<line x1="120" y1="556.5" x2="125" y2="556.5"/>
</g>
<g class="t" font-size="13.9" stroke="#000" stroke-width="0.2">
<text transform="translate(114.30 508.90) scale(0.82 1)" text-anchor="end">40</text>
<text transform="translate(114.30 419.90) scale(0.82 1)" text-anchor="end">50</text>
<text transform="translate(114.30 329.90) scale(0.82 1)" text-anchor="end">60</text>
<text transform="translate(114.30 239.90) scale(0.82 1)" text-anchor="end">70</text>
<text transform="translate(114.30 150.90) scale(0.82 1)" text-anchor="end">80</text>
<text transform="translate(114.30 590.10) scale(0.82 1)" text-anchor="end">0</text>
<text transform="translate(114.30 560.80) scale(0.82 1)" text-anchor="end">1</text>
<text transform="translate(163.05 604.70) scale(0.82 1)" text-anchor="middle">0</text>
<text transform="translate(304.24 604.70) scale(0.82 1)" text-anchor="middle">20</text>
<text transform="translate(445.43 604.70) scale(0.82 1)" text-anchor="middle">40</text>
<text transform="translate(586.63 604.70) scale(0.82 1)" text-anchor="middle">60</text>
<text transform="translate(727.82 604.70) scale(0.82 1)" text-anchor="middle">80</text>
<text transform="translate(869.01 604.70) scale(0.82 1)" text-anchor="middle">100</text>
<text transform="translate(125.00 533.50) scale(0.82 1)" text-anchor="start">1e7</text>
</g>
</svg></body></html>
